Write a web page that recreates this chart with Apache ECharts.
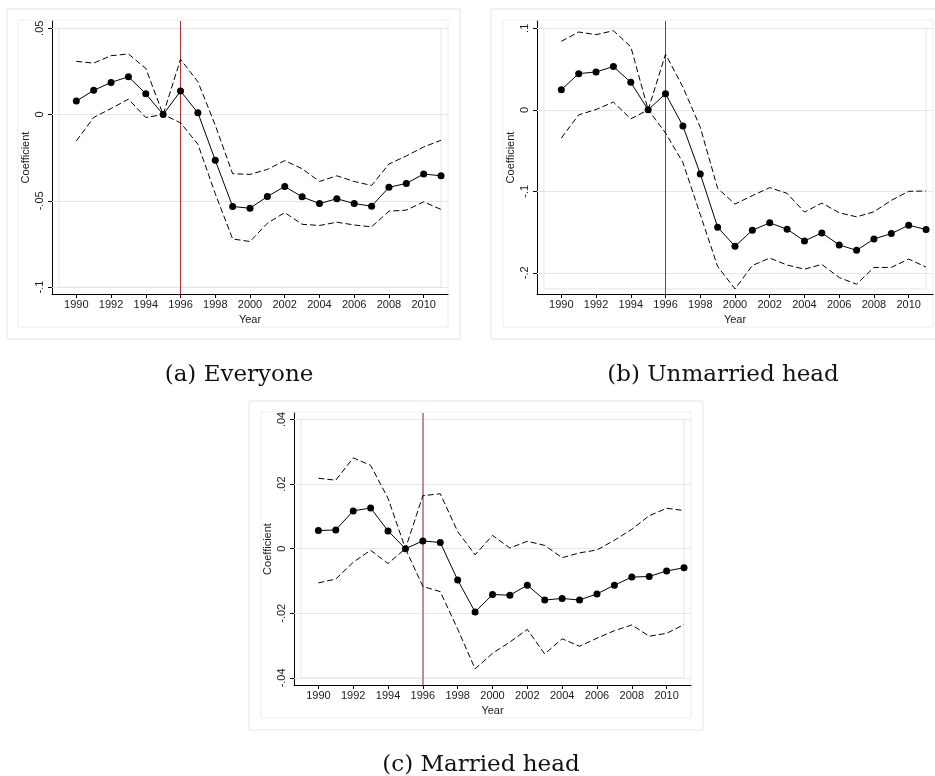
<!DOCTYPE html>
<html>
<head>
<meta charset="utf-8">
<script src="https://cdn.jsdelivr.net/npm/echarts@6/dist/echarts.min.js"></script>
<style>
  html, body { margin: 0; padding: 0; background: #fff; }
  #chart { width: 935px; height: 776px; }
</style>
</head>
<body>
<div id="chart"></div>
<script>
// Event-study coefficients with 95% bounds
var years = [1990, 1991, 1992, 1993, 1994, 1995, 1996, 1997, 1998, 1999, 2000,
             2001, 2002, 2003, 2004, 2005, 2006, 2007, 2008, 2009, 2010, 2011];
var xTicks = [1990, 1992, 1994, 1996, 1998, 2000, 2002, 2004, 2006, 2008, 2010];
var policyYear = 1996;

var everyoneEst = [0.0078, 0.0140, 0.0186, 0.0219, 0.0120, 0, 0.0136, 0.0010, -0.0265, -0.0533, -0.0543,
                   -0.0475, -0.0417, -0.0477, -0.0516, -0.0488, -0.0516, -0.0531, -0.0422, -0.0399, -0.0345, -0.0355];
var everyoneHi  = [0.0308, 0.0298, 0.0341, 0.0351, 0.0267, 0, 0.0320, 0.0190, -0.0062, -0.0343, -0.0347,
                   -0.0318, -0.0267, -0.0314, -0.0388, -0.0355, -0.0388, -0.0411, -0.0287, -0.0240, -0.0188, -0.0149];
var everyoneLo  = [-0.0153, -0.0017, 0.0035, 0.0089, -0.0017, 0, -0.0048, -0.0172, -0.0459, -0.0721, -0.0736,
                   -0.0630, -0.0568, -0.0636, -0.0643, -0.0624, -0.0640, -0.0651, -0.0560, -0.0554, -0.0506, -0.0550];
var everyoneTicks = [-0.1, -0.05, 0, 0.05];

var unmarriedEst = [0.0247, 0.0444, 0.0465, 0.0531, 0.0337, 0, 0.0198, -0.0198, -0.0786, -0.1440, -0.1675,
                    -0.1477, -0.1387, -0.1465, -0.1609, -0.1510, -0.1658, -0.1724, -0.1584, -0.1519, -0.1416, -0.1469];
var unmarriedHi  = [0.0840, 0.0955, 0.0922, 0.0971, 0.0774, 0, 0.0683, 0.0280, -0.0214, -0.0963, -0.1156,
                    -0.1053, -0.0955, -0.1025, -0.1255, -0.1144, -0.1263, -0.1313, -0.1251, -0.1111, -0.1000, -0.0996];
var unmarriedLo  = [-0.0346, -0.0062, 0.0004, 0.0095, -0.0111, 0, -0.0284, -0.0646, -0.1284, -0.1922, -0.2198,
                    -0.1910, -0.1819, -0.1905, -0.1955, -0.1897, -0.2058, -0.2140, -0.1934, -0.1934, -0.1831, -0.1930];
var unmarriedTicks = [-0.2, -0.1, 0, 0.1];

var marriedEst = [0.0056, 0.0058, 0.0117, 0.0126, 0.0055, 0, 0.0024, 0.0019, -0.0097, -0.0196, -0.0142,
                  -0.0144, -0.0113, -0.0159, -0.0154, -0.0159, -0.0140, -0.0113, -0.0088, -0.0086, -0.0069, -0.0059];
var marriedHi  = [0.0218, 0.0212, 0.0281, 0.0258, 0.0156, 0, 0.0164, 0.0170, 0.0053, -0.0019, 0.0041,
                  0.0002, 0.0023, 0.0010, -0.0028, -0.0013, -0.0004, 0.0026, 0.0060, 0.0102, 0.0125, 0.0118];
var marriedLo  = [-0.0106, -0.0094, -0.0042, -0.0005, -0.0046, 0, -0.0117, -0.0133, -0.0249, -0.0372, -0.0324,
                  -0.0289, -0.0250, -0.0326, -0.0279, -0.0302, -0.0277, -0.0254, -0.0236, -0.0271, -0.0262, -0.0235];
var marriedTicks = [-0.04, -0.02, 0, 0.02, 0.04];

var captions = ['(a) Everyone', '(b) Unmarried head', '(c) Married head'];

// layout of the three panels (pixels) and axis windows
var panels = [
    { est: everyoneEst, hi: everyoneHi, lo: everyoneLo, ticks: everyoneTicks,
      grid: { left: 52, top: 21, width: 396, height: 273 }, yMin: -0.104, yMax: 0.0542,
      frame: [7, 9, 453, 330], inner: [18, 20, 430, 307], capX: 234, capY: 370, vline: '#a83232', vwidth: 1 },
    { est: unmarriedEst, hi: unmarriedHi, lo: unmarriedLo, ticks: unmarriedTicks,
      grid: { left: 537, top: 21, width: 396, height: 273 }, yMin: -0.226, yMax: 0.109,
      frame: [491, 9, 460, 330], inner: [503, 20, 430, 307], capX: 718, capY: 370, vline: '#933545', vwidth: 1 },
    { est: marriedEst, hi: marriedHi, lo: marriedLo, ticks: marriedTicks,
      grid: { left: 294, top: 413, width: 397, height: 272 }, yMin: -0.0422, yMax: 0.042,
      frame: [249, 401, 454, 329], inner: [261, 412, 430, 306], capX: 476, capY: 760, vline: '#c98a8f', vwidth: 2 }
];

var FONT = 'Liberation Sans';
var TEXT = '#1a1a1a';
var GRID_COLOR = '#e6e6e6';

function pairs(vals) {
    return years.map(function (y, i) { return [y, vals[i]]; });
}

function stataNum(v) {
    var s = String(+v.toFixed(4));
    return s.replace(/^(-?)0\./, '$1.');
}

var option = {
    backgroundColor: '#fff',
    animation: false,
    title: [],
    grid: [],
    xAxis: [],
    yAxis: [],
    series: [],
    graphic: []
};

panels.forEach(function (p, k) {
    var lows = p.lo.concat(p.ticks);
    var highs = p.hi.concat(p.ticks);
    var boxLow = Math.min.apply(null, lows);
    var boxHigh = Math.max.apply(null, highs);

    option.graphic.push({
        type: 'rect', silent: true, z: -10,
        shape: { x: p.frame[0], y: p.frame[1], width: p.frame[2], height: p.frame[3] },
        style: { fill: 'none', stroke: '#e4e4e4', lineWidth: 1 }
    });
    option.graphic.push({
        type: 'rect', silent: true, z: -10,
        shape: { x: p.inner[0], y: p.inner[1], width: p.inner[2], height: p.inner[3] },
        style: { fill: 'none', stroke: '#eeeeee', lineWidth: 1 }
    });

    option.title.push({
        text: captions[k],
        left: p.capX, top: p.capY,
        textAlign: 'center', textVerticalAlign: 'middle',
        textStyle: { fontFamily: 'DejaVu Serif', fontSize: 23, fontWeight: 'normal', color: '#111' }
    });

    option.grid.push({ left: p.grid.left, top: p.grid.top, width: p.grid.width, height: p.grid.height });

    option.xAxis.push({
        type: 'value', gridIndex: k, min: 1988.6, max: 2011.4,
        name: 'Year', nameLocation: 'middle', nameGap: 20,
        nameTextStyle: { fontFamily: FONT, fontSize: 11, color: TEXT },
        axisLine: { show: true, onZero: false, lineStyle: { color: '#000', width: 1 } },
        axisTick: { show: true, length: 4, customValues: xTicks, lineStyle: { color: '#000' } },
        axisLabel: { customValues: xTicks, margin: 5, fontFamily: FONT, fontSize: 11, color: TEXT,
                     formatter: function (v) { return String(v); } },
        splitLine: { show: false }
    });

    option.yAxis.push({
        type: 'value', gridIndex: k, min: p.yMin, max: p.yMax,
        name: 'Coefficient', nameLocation: 'middle', nameGap: 21, nameRotate: 90,
        nameTextStyle: { fontFamily: FONT, fontSize: 11, color: TEXT },
        axisLine: { show: true, onZero: false, lineStyle: { color: '#000', width: 1 } },
        axisTick: { show: true, length: 4, customValues: p.ticks, lineStyle: { color: '#000' } },
        axisLabel: { customValues: p.ticks, rotate: 90, margin: 7, fontFamily: FONT, fontSize: 11, color: TEXT,
                     formatter: stataNum },
        splitLine: { show: false }
    });

    option.series.push({
        type: 'line', xAxisIndex: k, yAxisIndex: k, data: pairs(p.hi),
        symbol: 'none', lineStyle: { color: '#000', width: 1, type: [6, 3] }, z: 3,
        markArea: {
            silent: true, z: 1,
            itemStyle: { color: 'rgba(0,0,0,0)', borderColor: GRID_COLOR, borderWidth: 1 },
            data: [[{ xAxis: 1989, yAxis: boxHigh }, { xAxis: 2011, yAxis: boxLow }]]
        },
        markLine: {
            silent: true, z: 1, symbol: 'none', label: { show: false },
            lineStyle: { color: GRID_COLOR, width: 1, type: 'solid' },
            data: p.ticks.map(function (t) { return { yAxis: t }; })
        }
    });
    option.series.push({
        type: 'line', xAxisIndex: k, yAxisIndex: k, data: pairs(p.lo),
        symbol: 'none', lineStyle: { color: '#000', width: 1, type: [6, 3] }, z: 3
    });
    option.series.push({
        type: 'line', xAxisIndex: k, yAxisIndex: k, data: pairs(p.est),
        symbol: 'circle', symbolSize: 7, itemStyle: { color: '#000' },
        lineStyle: { color: '#000', width: 1 }, z: 4,
        markLine: {
            silent: true, z: 2, symbol: 'none', label: { show: false },
            lineStyle: { color: p.vline, width: p.vwidth, type: 'solid' },
            data: [{ xAxis: policyYear }]
        }
    });
});

var chart = echarts.init(document.getElementById('chart'));
chart.setOption(option);

window.addEventListener('resize', function () {
    chart.resize();
});
</script>
</body>
</html>
